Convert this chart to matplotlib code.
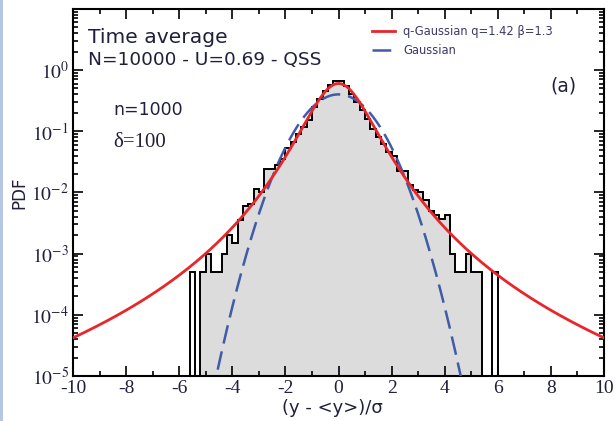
import numpy as np
import matplotlib.pyplot as plt
from matplotlib.patches import Rectangle
from matplotlib.ticker import MultipleLocator, LogLocator, FixedLocator

# histogram: bins of width 0.2 from -5.6 to 6.0
bin_start = -5.6
bin_width = 0.2
pdf_vals = [
    5e-4, 0, 5e-4, 1e-3, 5e-4, 5e-4, 1e-3, 2e-3, 1.5e-3, 3.5e-3,
    6e-3, 6.5e-3, 0.0115, 0.010, 0.0245, 0.0245, 0.028, 0.035, 0.054, 0.066,
    0.089, 0.115, 0.15, 0.245, 0.33, 0.46, 0.56, 0.65,
    0.65, 0.55, 0.40, 0.30, 0.22, 0.16, 0.11, 0.08, 0.062, 0.045,
    0.040, 0.0227, 0.0227, 0.013, 0.011, 0.010, 7.5e-3, 5e-3, 4.2e-3, 3.7e-3,
    4.2e-3, 1e-3, 5e-4, 5e-4, 1e-3, 5e-4, 5e-4, 0, 0, 5e-4,
]

# fitted curves (parameters from legend)
q = 1.42
beta = 1.3
qg_peak = 0.6

xtick_vals = [-10, -8, -6, -4, -2, 0, 2, 4, 6, 8, 10]
xtick_labels = ['-10', '-8', '-6', '-4', '-2', '0', '2', '4', '6', '8', '10']
ytick_vals = [1e-5, 1e-4, 1e-3, 1e-2, 1e-1, 1e0]
ytick_labels = ['$10^{-5}$', '$10^{-4}$', '$10^{-3}$', '$10^{-2}$',
                '$10^{-1}$', '$10^{0}$']

plt.rcParams['mathtext.fontset'] = 'stix'
txt_col = '#20203c'

W, H = 615, 421
fig = plt.figure(figsize=(W / 100, H / 100), dpi=100)
fig.patches.append(Rectangle((0, 0), 3 / W, 1, transform=fig.transFigure,
                             color='#b4c8e4', lw=0))
ax = fig.add_axes([73 / W, 1 - 376 / H, 531 / W, 367 / H])
ax.set_yscale('log')

vals = np.array(pdf_vals)
edges = bin_start + bin_width * np.arange(len(vals) + 1)
draw = np.where(vals > 0, vals, 1e-9)
ax.stairs(draw[2:55], edges[2:56], fill=True, baseline=1e-9,
          color='#dcdcdc', lw=0, zorder=1)
ax.stairs(draw, edges, baseline=1e-9, color='black', lw=1.4, zorder=2)

x = np.linspace(-10, 10, 1001)
qgauss = qg_peak * (1 - (1 - q) * beta * x ** 2) ** (1 / (1 - q))
gauss = np.exp(-x ** 2 / 2) / np.sqrt(2 * np.pi)
l1, = ax.plot(x, qgauss, color='#e8262c', lw=2, zorder=4)
l2, = ax.plot(x, gauss, color='#3f5ca9', lw=1.8, dashes=(7.5, 3.2), zorder=3)

ax.set_xlim(-10, 10)
ax.set_ylim(1e-5, 9.9)

ax.xaxis.set_major_locator(FixedLocator(xtick_vals))
ax.set_xticklabels(xtick_labels, family='Liberation Serif', fontsize=14,
                   color=txt_col)
ax.xaxis.set_minor_locator(MultipleLocator(1))
ax.yaxis.set_major_locator(FixedLocator(ytick_vals))
ax.set_yticklabels(ytick_labels, fontsize=14, color=txt_col)
ax.yaxis.set_minor_locator(LogLocator(base=10, subs=np.arange(2, 10), numticks=10))
ax.yaxis.set_minor_formatter(plt.NullFormatter())
ax.tick_params(which='both', direction='in', top=True, right=True, width=1.2)
ax.tick_params(which='major', length=7, pad=3)
ax.tick_params(which='minor', length=3.5)
for s in ax.spines.values():
    s.set_linewidth(1.5)

leg = ax.legend([l1, l2], ['q-Gaussian q=1.42 \u03b2=1.3', 'Gaussian'],
                loc='upper left', bbox_to_anchor=(372 / W, 1 - 25 / H),
                bbox_transform=fig.transFigure, frameon=False, fontsize=8.3,
                handlelength=2.0, handletextpad=0.7, labelspacing=0.5,
                borderpad=0, borderaxespad=0)
for t in leg.get_texts():
    t.set_color('#3a3a68')

sans = 'DejaVu Sans'
fig.text(88 / W, 1 - 43 / H, 'Time average', fontsize=14.6, color=txt_col,
         family=sans, va='baseline')
fig.text(88 / W, 1 - 65 / H, 'N=10000 - U=0.69 - QSS', fontsize=13.3,
         color=txt_col, family=sans, va='baseline')
fig.text(113 / W, 1 - 115 / H, 'n=1000', fontsize=12.5, color=txt_col,
         family=sans, va='baseline')
fig.text(113 / W, 1 - 147 / H, '\u03b4=100', fontsize=15, color=txt_col,
         family='Liberation Serif', va='baseline')
fig.text(550 / W, 1 - 92 / H, '(a)', fontsize=13.5, color=txt_col,
         family=sans, va='baseline')
fig.text(19 / W, 1 - 193 / H, 'PDF', fontsize=12, color=txt_col,
         family=sans, rotation=90, va='center', ha='center')
fig.text(332 / W, 1 - 413 / H, '(y - <y>)/\u03c3', fontsize=13, color=txt_col,
         family=sans, va='baseline', ha='center')

fig.savefig('out.png', dpi=100)
